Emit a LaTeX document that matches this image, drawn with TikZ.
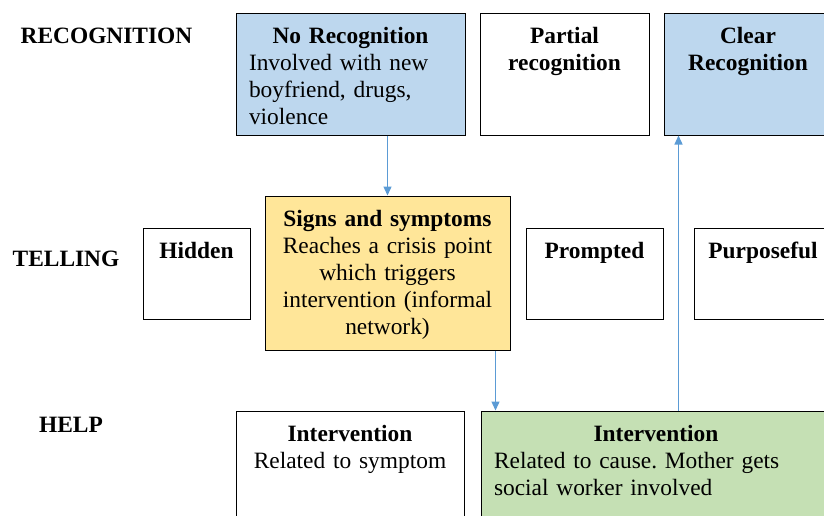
\documentclass[tikz,border=0pt]{standalone}
\usepackage{fontspec}
\setmainfont{Liberation Serif}
\frenchspacing
\usetikzlibrary{arrows.meta,calc}
\definecolor{recblue}{HTML}{BDD7EE}
\definecolor{signyellow}{HTML}{FFE699}
\definecolor{helpgreen}{HTML}{C5E0B4}
\definecolor{flowblue}{HTML}{5B9BD5}
\begin{document}
\begin{tikzpicture}[x=1pt,y=-1pt,
  every node/.style={font=\fontsize{23.4}{27}\selectfont},
  box/.style={draw=black,line width=1pt,rectangle,inner sep=0pt},
  boxtext/.style={anchor=base,inner sep=0pt},
  boldtext/.style={boxtext,font=\fontsize{23.4}{27}\selectfont\bfseries},
  rowlabel/.style={anchor=base,inner sep=0pt,font=\fontsize{23.4}{27}\selectfont\bfseries},
  flow/.style={draw=flowblue,line width=1.3pt,-{Triangle[length=9pt,width=8pt]}}]
\useasboundingbox (0,0) rectangle (824,515);
\clip (0,0) rectangle (824,515);

% row labels
\node[rowlabel] (recog) at (106.5,43.5) {RECOGNITION};
\node[rowlabel] (tell) at (66,266.5) {TELLING};
\node[rowlabel] (help) at (71,432.5) {HELP};

% recognition row
\node[box,fill=recblue,minimum width=229pt,minimum height=122pt] (norec) at (350.5,74) {};
\node[box,minimum width=169pt,minimum height=122pt] (partial) at (564.5,74) {};
\node[box,fill=recblue,minimum width=168pt,minimum height=122pt] (clear) at (748,74) {};

% telling row
\node[box,minimum width=107pt,minimum height=91pt] (hidden) at (196.5,273.5) {};
\node[box,fill=signyellow,minimum width=245pt,minimum height=154pt] (signs) at (387.5,273) {};
\node[box,minimum width=137pt,minimum height=91pt] (prompted) at (594.5,273.5) {};
\node[box,minimum width=138pt,minimum height=91pt] (purpose) at (763,273.5) {};

% help row
\node[box,minimum width=228pt,minimum height=119pt] (helpA) at (350,470.5) {};
\node[box,fill=helpgreen,minimum width=350pt,minimum height=119pt] (helpB) at (656,470.5) {};

% box texts (text width keeps the base anchor on the first line)
\node[boxtext,text width=203pt,align=left] (norecT) at ([yshift=-30.5pt]norec.north)
  {\makebox[\linewidth]{\bfseries No Recognition}\\Involved with new\\boyfriend, drugs,\\violence};
\node[boldtext,text width=150pt,align=center] (partialT) at ([yshift=-30.5pt]partial.north)
  {Partial\\recognition};
\node[boldtext,text width=150pt,align=center] (clearT) at ([yshift=-30.5pt]clear.north)
  {Clear\\Recognition};
\node[boldtext] (hiddenT) at ([yshift=-30.5pt]hidden.north) {Hidden};
\node[boxtext,text width=235pt,align=center] (signsT) at ([yshift=-30.5pt]signs.north)
  {\textbf{Signs and symptoms}\\Reaches a crisis point\\which triggers\\intervention (informal\\network)};
\node[boldtext] (promptedT) at ([yshift=-30.5pt]prompted.north) {Prompted};
\node[boldtext] (purposeT) at ([yshift=-30.5pt]purpose.north) {Purposeful};
\node[boxtext,text width=210pt,align=center] (helpAT) at ([yshift=-30.5pt]helpA.north)
  {\textbf{Intervention}\\Related to symptom};
\node[boxtext,text width=324pt,align=left] (helpBT) at ([yshift=-30.5pt]helpB.north)
  {\makebox[\linewidth]{\bfseries Intervention}\\Related to cause. Mother gets\\social worker involved};

% connectors
\coordinate (down2) at ([xshift=-15pt]signs.south east);
\coordinate (up3) at ([xshift=15pt]clear.south west);
\draw[flow] (norec.south -| signs.north) -- (signs.north);
\draw[flow] (down2) -- (down2 |- helpB.north);
\draw[flow] (up3 |- helpB.north) -- (up3);
\end{tikzpicture}
\end{document}
